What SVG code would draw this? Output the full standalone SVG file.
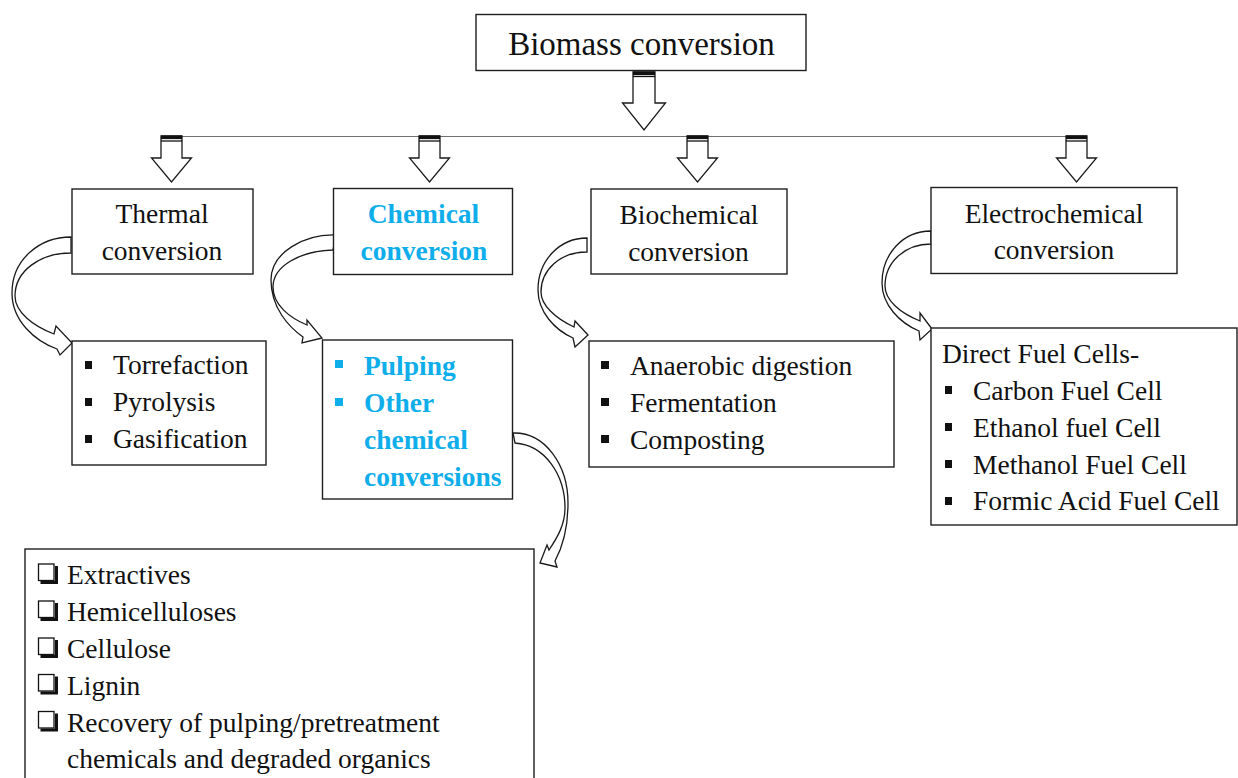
<svg xmlns="http://www.w3.org/2000/svg" width="1238" height="778" viewBox="0 0 1238 778">
  <defs>
    <style>
      .box{fill:#fff;stroke:#1e1e1e;stroke-width:1.4}
      .t{font-family:"Liberation Serif","Times New Roman",serif;font-size:27.5px;fill:#111}
      .title{font-size:33px}
      .mid{text-anchor:middle}
      .blue{fill:#0FAEEB;font-weight:bold}
      .arrow{fill:#fff;stroke:#1a1a1a;stroke-width:1.3;stroke-linejoin:miter}
      .rule{stroke:#707070;stroke-width:1.2;fill:none}
      .bul{fill:#111}
      .bulb{fill:#0FAEEB}
      .chk{fill:none;stroke:#111;stroke-width:1.3}
      .chks{fill:none;stroke:#111;stroke-width:3}
    </style>
    <!-- block arrow dropping from the branch rule -->
    <g id="drop">
      <polygon class="arrow" points="-10.5,0 10.5,0 10.5,22 20,22 0,46 -20,22 -10.5,22"/>
      <rect x="-10.5" y="-0.5" width="21" height="3.6" fill="#111"/>
      <line x1="-10.5" y1="5" x2="10.5" y2="5" stroke="#111" stroke-width="1.3"/>
    </g>
  </defs>

  <rect width="1238" height="778" fill="#fff"/>

  <!-- connectors -->
  <g id="connectors">
    <!-- trunk arrow below the root -->
    <polygon class="arrow" points="633,72 655,72 655,103 665.5,103 644,130 622.5,103 633,103"/>
    <rect x="633" y="71.5" width="22" height="3.6" fill="#111"/>
    <line x1="633" y1="76.5" x2="655" y2="76.5" stroke="#111" stroke-width="1.3"/>

    <!-- branch rule -->
    <line class="rule" x1="172" y1="136.5" x2="1077" y2="136.5"/>

    <use href="#drop" transform="translate(171.5,136)"/>
    <use href="#drop" transform="translate(429.5,136)"/>
    <use href="#drop" transform="translate(697.5,136)"/>
    <use href="#drop" transform="translate(1076.5,136)"/>

    <!-- curved arrows from each method to its list -->
    <path class="arrow" d="M71,237 C40,237 12,259 12,293 C12,321 35,341 57,349 L60,355 L72,343 L56,326 L54,334 C33,326 15,312 15,296 C15,271 40,253 71,253 Z"/>
    <path class="arrow" d="M336,235 C305,234 271,252 271,280 C271,308 289,327 303,337 L302,343 L322,338 L307,320 L307,325 C290,318 273,305 273,287 C273,266 300,251 333,250 Z"/>
    <path class="arrow" d="M587,238 C560,238 538,260 538,290 C538,312 555,330 573,338 L575,347 L588,335 L575,321 L574,327 C555,318 541,305 541,292 C541,270 560,252 587,252 Z"/>
    <path class="arrow" d="M931,231 C902,231 882,255 882,283 C882,305 900,323 919,331 L920,340 L932,329 L920,313 L920,321 C900,313 885,300 885,286 C885,262 905,244 931,244 Z"/>
    <path class="arrow" d="M513,433 C545,432 568,465 568,503 C568,528 562,548 555,561 L557,567 L540,563 L547,545 L549,550 C557,538 565,525 565,508 C565,475 545,445 515,443 Z"/>
  </g>

  <!-- root -->
  <g id="root">
    <rect class="box" x="476" y="14.5" width="330" height="56"/>
    <text class="t title mid" x="641.5" y="55">Biomass conversion</text>
  </g>

  <!-- conversion routes -->
  <g id="thermal">
    <rect class="box" x="72" y="189" width="181" height="85"/>
    <text class="t mid" x="162" y="223">Thermal</text>
    <text class="t mid" x="162" y="260">conversion</text>
  </g>
  <g id="chemical">
    <rect class="box" x="333.5" y="188.5" width="179" height="86"/>
    <text class="t mid blue" x="423.5" y="223">Chemical</text>
    <text class="t mid blue" x="424" y="260">conversion</text>
  </g>
  <g id="biochemical">
    <rect class="box" x="591" y="189" width="196" height="85"/>
    <text class="t mid" x="689" y="224">Biochemical</text>
    <text class="t mid" x="688.5" y="260.5">conversion</text>
  </g>
  <g id="electrochemical">
    <rect class="box" x="931" y="187.5" width="246" height="86"/>
    <text class="t mid" x="1054" y="222.5">Electrochemical</text>
    <text class="t mid" x="1054" y="258.5">conversion</text>
  </g>

  <!-- process lists -->
  <g id="thermal-list">
    <rect class="box" x="72" y="341" width="194" height="124"/>
    <rect class="bul" x="85" y="361" width="7" height="8"/>
    <rect class="bul" x="85" y="398" width="7" height="8"/>
    <rect class="bul" x="85" y="435" width="7" height="8"/>
    <text class="t" x="113" y="374">Torrefaction</text>
    <text class="t" x="113" y="411">Pyrolysis</text>
    <text class="t" x="113" y="448">Gasification</text>
  </g>

  <g id="chemical-list">
    <rect class="box" x="322.5" y="340" width="190" height="159"/>
    <rect class="bulb" x="335" y="360" width="8" height="8"/>
    <rect class="bulb" x="335" y="398" width="8" height="8"/>
    <text class="t blue" x="364" y="375">Pulping</text>
    <text class="t blue" x="364" y="412">Other</text>
    <text class="t blue" x="364" y="449">chemical</text>
    <text class="t blue" x="364" y="486">conversions</text>
  </g>

  <g id="biochemical-list">
    <rect class="box" x="589" y="341" width="305" height="126"/>
    <rect class="bul" x="601" y="361" width="8" height="8"/>
    <rect class="bul" x="601" y="398" width="8" height="8"/>
    <rect class="bul" x="601" y="435" width="8" height="8"/>
    <text class="t" x="630" y="375">Anaerobic digestion</text>
    <text class="t" x="630" y="412">Fermentation</text>
    <text class="t" x="630" y="449">Composting</text>
  </g>

  <g id="electrochemical-list">
    <rect class="box" x="931" y="328" width="306" height="197"/>
    <text class="t" x="942" y="363">Direct Fuel Cells-</text>
    <rect class="bul" x="945" y="386" width="7" height="8"/>
    <rect class="bul" x="945" y="423" width="7" height="8"/>
    <rect class="bul" x="945" y="460" width="7" height="8"/>
    <rect class="bul" x="945" y="497" width="7" height="8"/>
    <text class="t" x="973" y="399.5">Carbon Fuel Cell</text>
    <text class="t" x="973" y="436.5">Ethanol fuel Cell</text>
    <text class="t" x="973" y="473.5">Methanol Fuel Cell</text>
    <text class="t" x="973" y="510">Formic Acid Fuel Cell</text>
  </g>

  <g id="fractions-list">
    <rect class="box" x="25" y="549" width="509" height="245"/>
    <g id="checks">
      <rect class="chk" x="38.5" y="564" width="15.5" height="16.5"/>
      <path class="chks" d="M40.5,582.5 H56.5 V566"/>
      <rect class="chk" x="38.5" y="601" width="15.5" height="16.5"/>
      <path class="chks" d="M40.5,619.5 H56.5 V603"/>
      <rect class="chk" x="38.5" y="638" width="15.5" height="16.5"/>
      <path class="chks" d="M40.5,656.5 H56.5 V640"/>
      <rect class="chk" x="38.5" y="674.5" width="15.5" height="16.5"/>
      <path class="chks" d="M40.5,693 H56.5 V676.5"/>
      <rect class="chk" x="38.5" y="711.5" width="15.5" height="16.5"/>
      <path class="chks" d="M40.5,730 H56.5 V713.5"/>
    </g>
    <text class="t" x="67" y="584">Extractives</text>
    <text class="t" x="67" y="621">Hemicelluloses</text>
    <text class="t" x="67" y="658">Cellulose</text>
    <text class="t" x="67" y="694.5">Lignin</text>
    <text class="t" x="67" y="731.5">Recovery of pulping/pretreatment</text>
    <text class="t" x="67" y="768">chemicals and degraded organics</text>
  </g>
</svg>
